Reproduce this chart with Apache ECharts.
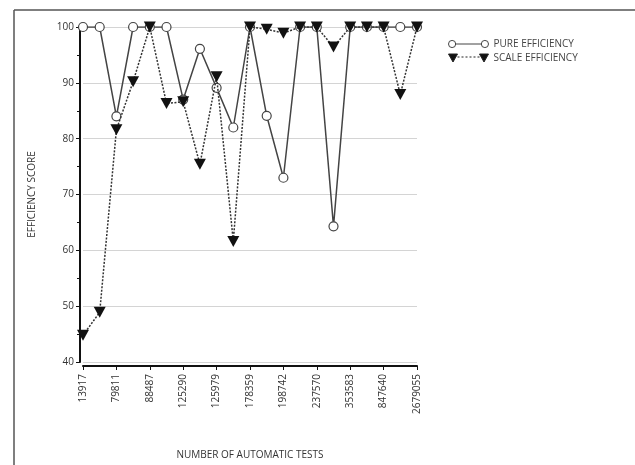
<!DOCTYPE html>
<html>
<head>
<meta charset="utf-8">
<script src="https://cdn.jsdelivr.net/npm/echarts@6/dist/echarts.min.js"></script>
<style>
  html, body { margin: 0; padding: 0; background: #fff; }
  #chart { width: 635px; height: 465px; }
</style>
</head>
<body>
<div id="chart"></div>
<script>
// x categories: only every other one is labelled in the picture
const tests = ['13917', '', '79811', '', '88487', '', '125290', '', '125979', '', '178359',
               '', '198742', '', '237570', '', '353583', '', '847640', '', '2679055'];
const pureEfficiency = [100, 100, 84, 100, 100, 100, 87, 96.1, 89.1, 82, 100,
                        84.1, 73, 100, 100, 64.3, 100, 100, 100, 100, 100];
const scaleEfficiency = [44.8, 48.9, 81.6, 90.2, 100, 86.3, 86.6, 75.4, 91.1, 61.6, 100,
                         99.6, 98.9, 100, 100, 96.4, 100, 100, 100, 87.9, 100];
const yTicks = { min: 40, max: 100, step: 10 };

const font = 'Open Sans, sans-serif';
const chart = echarts.init(document.getElementById('chart'));

chart.setOption({
    animation: false,
    backgroundColor: '#fff',
    graphic: [
        { type: 'line', shape: { x1: 14, y1: 10, x2: 635, y2: 10 }, style: { stroke: '#555', lineWidth: 1.5 } },
        { type: 'line', shape: { x1: 14, y1: 10, x2: 14, y2: 465 }, style: { stroke: '#555', lineWidth: 1.5 } }
    ],
    grid: { left: 83, right: 218, top: 27, bottom: 102 },
    legend: {
        orient: 'vertical',
        left: 443,
        top: 34,
        itemGap: 4,
        itemWidth: 40,
        itemHeight: 10,
        textStyle: { fontFamily: font, fontSize: 10, color: '#444' },
        data: [
            {
                name: 'PURE EFFICIENCY',
                icon: 'path://M0.5,5a3.5,3.5 0 1,0 7,0a3.5,3.5 0 1,0 -7,0zM32.5,5a3.5,3.5 0 1,0 7,0a3.5,3.5 0 1,0 -7,0zM7.5,5L32.5,5',
                itemStyle: { color: '#fff', borderColor: '#444', borderWidth: 1 }
            },
            {
                name: 'SCALE EFFICIENCY',
                icon: 'path://M0,1L9,1L4.5,9zM31,1L40,1L35.5,9zM9,4L11,4M13,4L15,4M17,4L19,4M21,4L23,4M25,4L27,4M29,4L31,4',
                itemStyle: { color: '#111', borderColor: '#222', borderWidth: 1 }
            }
        ]
    },
    xAxis: {
        type: 'category',
        data: tests,
        boundaryGap: false,
        offset: 4,
        name: 'NUMBER OF AUTOMATIC TESTS',
        nameLocation: 'middle',
        nameGap: 84,
        nameTextStyle: { fontFamily: font, fontSize: 10, color: '#333' },
        axisLine: { lineStyle: { color: '#111', width: 2 } },
        axisTick: { interval: 1, length: 4, lineStyle: { color: '#111' } },
        axisLabel: { interval: 1, rotate: 90, margin: 8, fontFamily: font, fontSize: 10, color: '#333' },
        splitLine: { show: false }
    },
    yAxis: {
        type: 'value',
        min: yTicks.min,
        max: yTicks.max,
        interval: yTicks.step,
        offset: 3,
        name: 'EFFICIENCY SCORE',
        nameLocation: 'middle',
        nameGap: 43,
        nameTextStyle: { fontFamily: font, fontSize: 10, color: '#333' },
        axisLine: { show: true, lineStyle: { color: '#111', width: 2 } },
        axisTick: { show: true, length: 4, lineStyle: { color: '#111' } },
        minorTick: { show: true, splitNumber: 2, length: 3, lineStyle: { color: '#111' } },
        axisLabel: { margin: 6, fontFamily: font, fontSize: 10, color: '#333' },
        splitLine: { lineStyle: { color: '#d4d4d4', width: 1 } }
    },
    series: [
        {
            name: 'PURE EFFICIENCY',
            type: 'line',
            data: pureEfficiency,
            symbol: 'circle',
            symbolSize: 9,
            showAllSymbol: true,
            itemStyle: { color: '#fff', borderColor: '#444', borderWidth: 1.2 },
            lineStyle: { color: '#444', width: 1.5 },
            z: 2
        },
        {
            name: 'SCALE EFFICIENCY',
            type: 'line',
            data: scaleEfficiency,
            symbol: 'triangle',
            symbolRotate: 180,
            symbolSize: [12, 11],
            showAllSymbol: true,
            itemStyle: { color: '#111' },
            lineStyle: { color: '#333', width: 1.5, type: [2, 1.5] },
            z: 3
        }
    ]
});
</script>
</body>
</html>
